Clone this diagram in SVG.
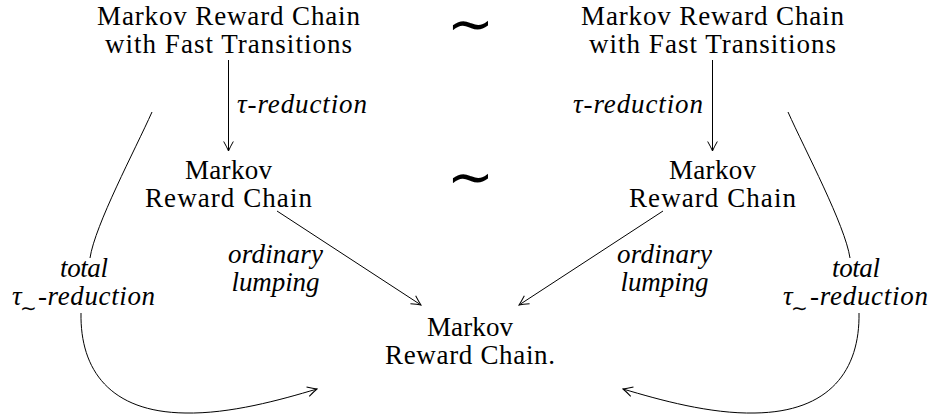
<svg xmlns="http://www.w3.org/2000/svg" width="932" height="419" viewBox="0 0 932 419">
<style>
text{font-family:'Liberation Serif','Times New Roman',serif;font-size:27px;fill:#000}
.rm{text-anchor:middle}
.it{font-style:italic}
.st{text-anchor:start}
.en{text-anchor:end}
.sim{font-family:'DejaVu Sans',sans-serif;text-anchor:middle;font-style:normal}
.big{font-size:56px}
.sub{font-size:20px}
.edge{fill:none;stroke:#000;stroke-width:1}
</style>
<defs>
<marker id="arr" viewBox="0 0 12 12" markerWidth="12" markerHeight="12" refX="10.5" refY="6" orient="auto" markerUnits="userSpaceOnUse">
<path d="M1,1.2 Q7,4.6 10.5,6 Q7,7.4 1,10.8" fill="none" stroke="#000" stroke-width="1"/>
</marker>
</defs>
<g id="connectors">
<path class="edge" d="M228.5,60 L228.5,151" marker-end="url(#arr)"/>
<path class="edge" d="M712.5,60 L712.5,151" marker-end="url(#arr)"/>
<path class="edge" d="M277,211 L421,305" marker-end="url(#arr)"/>
<path class="edge" d="M663,211 L519,305" marker-end="url(#arr)"/>
<path class="edge" d="M152,112 C135,150 95,225 90,258 M81,313 C80,370 110,412 185,413 C230,414 280,400 317,389" marker-end="url(#arr)"/>
<path class="edge" d="M788,112 C805,150 845,225 850,258 M859,313 C860,370 830,412 755,413 C710,414 660,400 623,389" marker-end="url(#arr)"/>
</g>
<g id="n_top_left">
<text class="rm" x="228.5" y="25" textLength="263" lengthAdjust="spacing">Markov Reward Chain</text>
<text class="rm" x="228.5" y="53" textLength="247" lengthAdjust="spacing">with Fast Transitions</text>
</g>
<g id="n_top_right">
<text class="rm" x="712.5" y="25" textLength="263" lengthAdjust="spacing">Markov Reward Chain</text>
<text class="rm" x="712.5" y="53" textLength="247" lengthAdjust="spacing">with Fast Transitions</text>
</g>
<g id="sim_top"><text class="sim big" x="470.5" y="42.5">∼</text></g>
<g id="n_mid_left">
<text class="rm" x="228.5" y="179" textLength="87" lengthAdjust="spacing">Markov</text>
<text class="rm" x="228.5" y="207" textLength="167" lengthAdjust="spacing">Reward Chain</text>
</g>
<g id="n_mid_right">
<text class="rm" x="712.5" y="179" textLength="87" lengthAdjust="spacing">Markov</text>
<text class="rm" x="712.5" y="207" textLength="167" lengthAdjust="spacing">Reward Chain</text>
</g>
<g id="sim_mid"><text class="sim big" x="470.5" y="196">∼</text></g>
<g id="n_bottom">
<text class="rm" x="470" y="336" textLength="86" lengthAdjust="spacing">Markov</text>
<text class="rm" x="470" y="364" textLength="170" lengthAdjust="spacing">Reward Chain.</text>
</g>
<g id="labels">
<text class="it st" x="237" y="113" textLength="130" lengthAdjust="spacing">τ-reduction</text>
<text class="it en" x="703" y="113" textLength="130" lengthAdjust="spacing">τ-reduction</text>
<text class="rm it" x="275.5" y="263" textLength="95" lengthAdjust="spacing">ordinary</text>
<text class="rm it" x="275.5" y="291" textLength="88" lengthAdjust="spacing">lumping</text>
<text class="rm it" x="664.5" y="263" textLength="95" lengthAdjust="spacing">ordinary</text>
<text class="rm it" x="664.5" y="291" textLength="88" lengthAdjust="spacing">lumping</text>
<text class="rm it" x="84" y="277" textLength="48" lengthAdjust="spacing">total</text>
<text class="it st" y="305"><tspan x="12">τ</tspan><tspan x="28.5" dy="10" class="sim sub">∼</tspan><tspan x="38" dy="-10" textLength="117" lengthAdjust="spacing">-reduction</tspan></text>
<text class="rm it" x="856" y="277" textLength="48" lengthAdjust="spacing">total</text>
<text class="it st" y="305"><tspan x="783">τ</tspan><tspan x="799.5" dy="10" class="sim sub">∼</tspan><tspan x="810" dy="-10" textLength="118" lengthAdjust="spacing">-reduction</tspan></text>
</g>
</svg>
